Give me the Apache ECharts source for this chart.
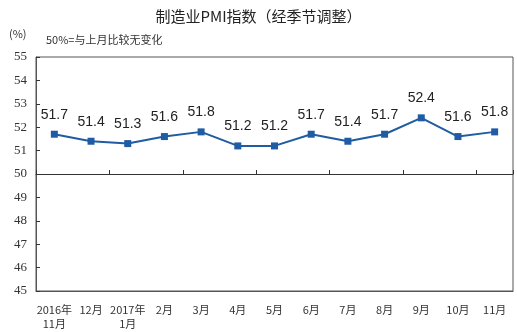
<!DOCTYPE html>
<html>
<head>
<meta charset="utf-8">
<script src="https://cdn.jsdelivr.net/npm/echarts@6/dist/echarts.min.js"></script>
<style>
html,body{margin:0;padding:0;background:#fff;}
#chart{width:517px;height:332px;}
</style>
</head>
<body>
<div id="chart"></div>
<script>
// 制造业PMI（经季节调整），2016年11月—2017年11月
var months = ['2016年\n11月', '12月', '2017年\n1月', '2月', '3月', '4月', '5月', '6月', '7月', '8月', '9月', '10月', '11月'];
var pmi = [51.7, 51.4, 51.3, 51.6, 51.8, 51.2, 51.2, 51.7, 51.4, 51.7, 52.4, 51.6, 51.8];
var yMin = 45, yMax = 55, yStep = 1;

var chart = echarts.init(document.getElementById('chart'));
var cjk = '"Noto Sans CJK SC", "Microsoft YaHei", sans-serif';

chart.setOption({
  animation: false,
  backgroundColor: '#fff',
  title: {
    text: '制造业PMI指数（经季节调整）',
    left: 'center',
    top: 4,
    textStyle: { fontFamily: cjk, fontSize: 15, fontWeight: 'normal', color: '#222' }
  },
  graphic: [
    { type: 'text', left: 9, top: 28, style: { text: '(%)', font: '11px ' + cjk, fill: '#333' } },
    { type: 'text', left: 46, top: 34, style: { text: '50%=与上月比较无变化', font: '11px ' + cjk, fill: '#333' } }
  ],
  grid: {
    left: 36, right: 4, top: 57, bottom: 41,
    show: true, borderColor: '#555', borderWidth: 1, backgroundColor: 'transparent'
  },
  xAxis: [
    {
      type: 'category',
      data: months,
      boundaryGap: true,
      axisLine: { lineStyle: { color: '#555', width: 1 } },
      axisTick: { show: false },
      axisLabel: { fontFamily: cjk, fontSize: 11, color: '#333', margin: 12, lineHeight: 14, interval: 0 }
    },
    {
      // 50 基准线及其刻度
      type: 'category',
      data: months,
      position: 'top',
      offset: -117,
      boundaryGap: true,
      axisLine: { show: true, lineStyle: { color: '#333', width: 1 } },
      axisTick: { show: true, inside: false, length: 4, lineStyle: { color: '#333' } },
      axisLabel: { show: false }
    }
  ],
  yAxis: {
    type: 'value',
    min: yMin, max: yMax, interval: yStep,
    axisLine: { show: true, lineStyle: { color: '#555' } },
    axisTick: { show: true, inside: true, length: 4, lineStyle: { color: '#333' } },
    splitLine: { show: false },
    axisLabel: { fontFamily: '"Liberation Serif", serif', fontSize: 13, color: '#333', margin: 9 }
  },
  series: [{
    type: 'line',
    data: pmi,
    xAxisIndex: 0,
    symbol: 'rect',
    symbolSize: 7,
    lineStyle: { color: '#1F5CA3', width: 2 },
    itemStyle: { color: '#1F5CA3' },
    label: {
      show: true, position: 'top', distance: 9,
      fontFamily: '"Liberation Sans", Arial, sans-serif', fontSize: 14, color: '#222'
    }
  }]
});
</script>
</body>
</html>
